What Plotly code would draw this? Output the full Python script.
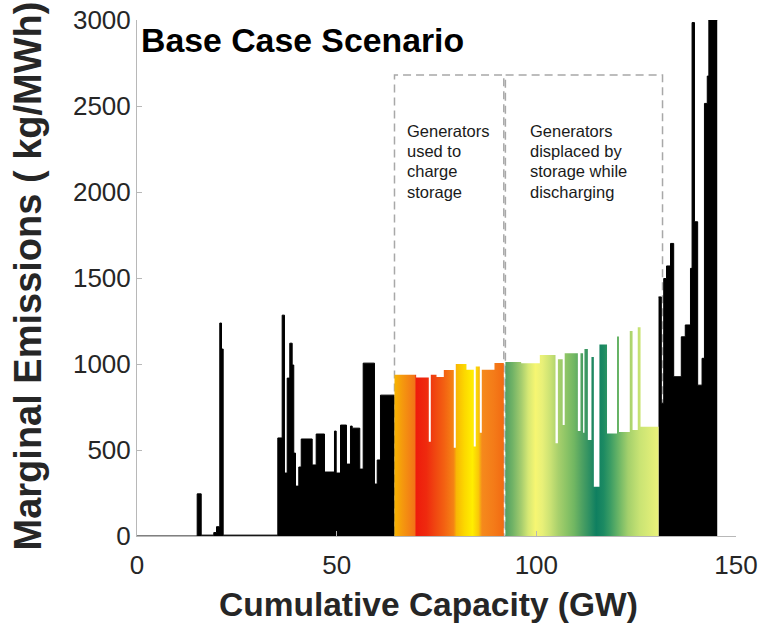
import numpy as np
import plotly.graph_objects as go

# Generators in merit order: capacity (GW) and marginal emission rate (kg/MWh)
base_capacity = [15.07, 1.01, 3.15, 0.68, 0.82, 0.43, 0.42, 13.68, 1.09, 0.58, 0.68,
                 0.65, 0.60, 0.40, 0.43, 0.82, 0.61, 2.75, 1.00, 2.08, 2.50, 0.43,
                 1.08, 1.50, 1.00, 0.43, 1.90, 0.85, 2.83, 0.68, 0.82, 3.51]
base_emissions = [0, 245, 5, 20, 54, 1238, 1087, 5, 570, 1284, 366, 918, 1121, 994,
                  482, 290, 401, 564, 413, 593, 372, 610, 366, 645, 418, 639, 627,
                  389, 1005, 302, 442, 819]

# Generators used to charge storage
charge_capacity = [5.42, 3.17, 0.50, 1.43, 1.83, 2.50, 0.50, 2.67, 1.83, 0.50, 1.01,
                   0.50, 3.18, 2.33]
charge_emissions = [937, 922, 548, 937, 925, 965, 513, 1000, 967, 520, 986, 600, 967, 1006]

# Generators displaced by storage while discharging
discharge_capacity = [0.40, 3.95, 4.67, 3.93, 0.60, 1.20, 0.50, 3.30, 0.65, 0.65, 0.35,
                      0.85, 0.90, 0.60, 1.40, 1.90, 2.50, 0.50, 2.70, 0.70, 1.30, 0.70, 4.50]
discharge_emissions = [0, 1011, 1005, 1052, 539, 1027, 645, 1062, 610, 1062, 600, 1087,
                       558, 1040, 287, 1114, 596, 1160, 605, 1192, 616, 1213, 635]

# Peaking units at the top of the stack
peak_capacity = [0.7, 0.6, 0.7, 1.0, 0.8, 1.9, 1.0, 1.3, 0.4, 0.6, 0.8, 1.1, 0.6, 0.7, 0.4, 2.1]
peak_emissions = [1390, 772, 1497, 1570, 1701, 926, 1158, 1227, 1556, 2985, 1827, 877,
                  1033, 2515, 2674, 3000]

x_ticks = [0, 50, 100, 150]
y_ticks = [0, 500, 1000, 1500, 2000, 2500, 3000]

# Colour ramps for the shaded groups (positions in GW)
charge_stops = [64.5, 66.5, 69.5, 69.95, 72.5, 74.5, 77.0, 79.3, 80.0, 82.0, 84.0,
                85.5, 86.4, 89.5, 91.85]
charge_colors = ['#f7b400', '#f5980e', '#f27418', '#ee1c0c', '#ef2a0e', '#f04410',
                 '#f36212', '#f58414', '#f8b804', '#fcd800', '#ffee00', '#f9c808',
                 '#f58a1c', '#f47a18', '#f26a12']
discharge_stops = [92.25, 94.0, 96.2, 98.0, 99.8, 101.5, 103.5, 105.5, 107.5, 109.5,
                   111.5, 113.5, 115.0, 116.8, 118.5, 120.5, 123.0, 126.0, 130.6]
discharge_colors = ['#4a9c62', '#70b266', '#a4cc6e', '#d6e874', '#f6f672', '#e8f078',
                    '#cbe274', '#a8d06c', '#8cc466', '#70b662', '#4ca062', '#2a8e62',
                    '#0f7f60', '#1c8a62', '#3a9c64', '#68b466', '#a4d06c', '#cae474',
                    '#eaf27a']


def supply_steps(start, capacity, emissions):
    edges = start + np.concatenate([[0.0], np.cumsum(capacity)])
    return edges, list(emissions) + [emissions[-1]]


def ramp(stops, colors, lo, hi):
    pos = np.clip((np.array(stops) - lo) / (hi - lo), 0, 1)
    pos[0], pos[-1] = 0.0, 1.0
    return [[float(p), c] for p, c in zip(pos, colors)]


x_base, y_base = supply_steps(0.0, base_capacity, base_emissions)
x_chg, y_chg = supply_steps(x_base[-1], charge_capacity, charge_emissions)
x_dis, y_dis = supply_steps(x_chg[-1], discharge_capacity, discharge_emissions)
x_peak, y_peak = supply_steps(x_dis[-1], peak_capacity, peak_emissions)

fig = go.Figure()

for xs, ys in [(x_base, y_base), (x_peak, y_peak)]:
    fig.add_trace(go.Scatter(
        x=xs, y=ys, mode='lines', line=dict(shape='hv', color='black', width=1),
        fill='tozeroy', fillcolor='black', hoverinfo='skip', showlegend=False))

for xs, ys, stops, cols in [(x_chg, y_chg, charge_stops, charge_colors),
                            (x_dis, y_dis, discharge_stops, discharge_colors)]:
    lo, hi = float(xs[0]), float(xs[-1])
    fig.add_trace(go.Scatter(
        x=xs, y=ys, mode='lines', line=dict(shape='hv', width=0),
        fill='tozeroy',
        fillgradient=dict(type='horizontal', start=lo, stop=hi,
                          colorscale=ramp(stops, cols, lo, hi)),
        hoverinfo='skip', showlegend=False))

# Dashed boxes around the two storage groups
box_top = 2680
for x0, x1 in [(x_chg[0], x_chg[-1]), (x_dis[1], 131.6)]:
    fig.add_shape(type='rect', x0=x0, x1=x1, y0=0, y1=box_top, layer='below',
                  line=dict(color='#a8a8a8', width=1.5, dash='8px,5px'))

label_font = dict(family='Liberation Sans, Arial, sans-serif', size=16.5, color='#1a1a1a')
charge_lines = ['Generators', 'used to', 'charge', 'storage']
discharge_lines = ['Generators', 'displaced by', 'storage while', 'discharging']
line_y = [2357, 2240, 2120, 2000]
for lines, xl in [(charge_lines, 67.0), (discharge_lines, 97.8)]:
    for txt, yy in zip(lines, line_y):
        fig.add_annotation(x=xl, y=yy, text=txt, showarrow=False, xanchor='left',
                           yanchor='middle', font=label_font)

fig.add_annotation(x=0.4, y=2885, text='<b>Base Case Scenario</b>', showarrow=False,
                   xanchor='left', yanchor='middle',
                   font=dict(family='Liberation Sans, Arial, sans-serif', size=33.8, color='black'))

title_font = dict(family='Liberation Sans, Arial, sans-serif', size=33.5, color='#262626')
fig.add_annotation(xref='paper', yref='paper', x=0.487, y=0, yshift=-68,
                   text='<b>Cumulative Capacity (GW)</b>', showarrow=False,
                   xanchor='center', yanchor='middle', font=title_font)
fig.add_annotation(xref='paper', yref='paper', x=0, xshift=-109, y=0.503,
                   text='<b>Marginal Emissions ( kg/MWh)</b>', showarrow=False,
                   textangle=-90, xanchor='center', yanchor='middle',
                   font=dict(family='Liberation Sans, Arial, sans-serif', size=38, color='#262626'))

tick_font = dict(family='Liberation Sans, Arial, sans-serif', size=26, color='#262626')
fig.update_xaxes(range=[0, 150], tickvals=x_ticks, ticks='inside', ticklen=5,
                 tickcolor='#b8b8b8', showline=True, linecolor='#b8b8b8', linewidth=1,
                 showgrid=False, zeroline=False, tickfont=tick_font, automargin=False,
                 ticklabelstandoff=6)
fig.update_yaxes(range=[0, 3000], tickvals=y_ticks, ticks='inside', ticklen=5,
                 tickcolor='#b8b8b8', showline=True, linecolor='#b8b8b8', linewidth=1,
                 showgrid=False, zeroline=False, tickfont=tick_font, automargin=False)

fig.update_layout(width=765, height=628, margin=dict(l=137, r=29, t=20, b=92),
                  plot_bgcolor='white', paper_bgcolor='white')

fig.write_html('out.html')
